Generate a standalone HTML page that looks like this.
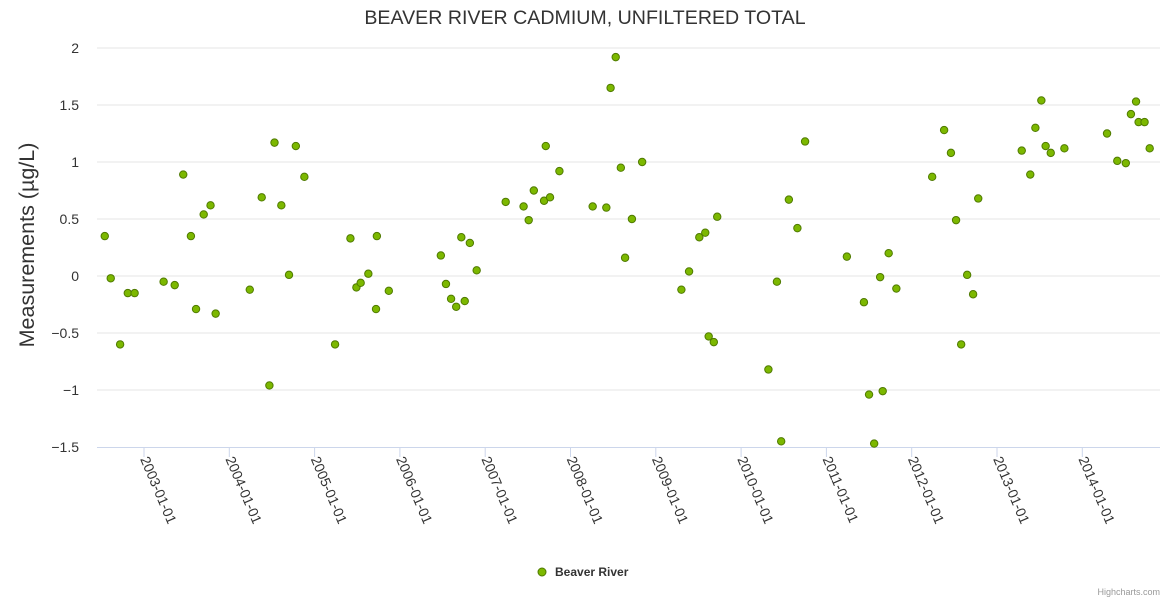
<!DOCTYPE html>
<html><head><meta charset="utf-8"><style>
body{margin:0;background:#fff;font-family:"Liberation Sans",sans-serif}
</style></head><body>
<svg id="c" width="1170" height="600" xmlns="http://www.w3.org/2000/svg">
<text x="585" y="24" text-anchor="middle" font-size="19.6" fill="#333">BEAVER RIVER CADMIUM, UNFILTERED TOTAL</text>
<text transform="translate(34,245) rotate(-90)" text-anchor="middle" font-size="21.5" fill="#333">Measurements (µg/L)</text>
<g id="grid"></g>
<g id="xax"></g>
<g id="pts"></g>
<g>
<circle cx="542" cy="572" r="4" fill="#7cb800" stroke="#4f7a00" stroke-width="1"/>
<text x="555" y="576" font-size="12" font-weight="bold" fill="#333">Beaver River</text>
</g>
<text x="1160" y="595" text-anchor="end" font-size="9" fill="#999">Highcharts.com</text>
</svg>
<script>
const yTicks=[2,1.5,1,0.5,0,-0.5,-1,-1.5];
const yTickLabels=["2","1.5","1","0.5","0","−0.5","−1","−1.5"];
const xTickYears=[2003,2004,2005,2006,2007,2008,2009,2010,2011,2012,2013,2014];
const dates=[2002.54,2002.61,2002.72,2002.81,2002.89,2003.23,2003.36,2003.46,2003.55,2003.61,2003.70,2003.78,2003.84,2004.24,2004.38,2004.47,2004.53,2004.61,2004.70,2004.78,2004.88,2005.24,2005.42,2005.49,2005.54,2005.63,2005.72,2005.73,2005.87,2006.48,2006.54,2006.60,2006.66,2006.72,2006.76,2006.82,2006.90,2007.24,2007.45,2007.51,2007.57,2007.69,2007.71,2007.76,2007.87,2008.26,2008.42,2008.47,2008.53,2008.59,2008.64,2008.72,2008.84,2009.30,2009.39,2009.51,2009.58,2009.62,2009.68,2009.72,2010.32,2010.42,2010.47,2010.56,2010.66,2010.75,2011.24,2011.44,2011.50,2011.56,2011.63,2011.66,2011.73,2011.82,2012.24,2012.38,2012.46,2012.52,2012.58,2012.65,2012.72,2012.78,2013.29,2013.39,2013.45,2013.52,2013.57,2013.63,2013.79,2014.29,2014.41,2014.51,2014.57,2014.63,2014.66,2014.73,2014.79];
const values=[0.35,-0.02,-0.60,-0.15,-0.15,-0.05,-0.08,0.89,0.35,-0.29,0.54,0.62,-0.33,-0.12,0.69,-0.96,1.17,0.62,0.01,1.14,0.87,-0.60,0.33,-0.10,-0.06,0.02,-0.29,0.35,-0.13,0.18,-0.07,-0.20,-0.27,0.34,-0.22,0.29,0.05,0.65,0.61,0.49,0.75,0.66,1.14,0.69,0.92,0.61,0.60,1.65,1.92,0.95,0.16,0.50,1.00,-0.12,0.04,0.34,0.38,-0.53,-0.58,0.52,-0.82,-0.05,-1.45,0.67,0.42,1.18,0.17,-0.23,-1.04,-1.47,-0.01,-1.01,0.20,-0.11,0.87,1.28,1.08,0.49,-0.60,0.01,-0.16,0.68,1.10,0.89,1.30,1.54,1.14,1.08,1.12,1.25,1.01,0.99,1.42,1.53,1.35,1.35,1.12];
const NS="http://www.w3.org/2000/svg";
const L=97,R=1160;
const X=t=>144+(t-2003)*85.3;
const Y=v=>276-v*114;
function mk(tag,at,parent){const e=document.createElementNS(NS,tag);for(const k in at)e.setAttribute(k,at[k]);parent.appendChild(e);return e;}
const grid=document.getElementById('grid');
yTicks.forEach((v,i)=>{
  if(v!==-1.5){const l=mk('line',{x1:L,x2:R,y1:Y(v),y2:Y(v),stroke:'#e6e6e6','stroke-width':1},grid);
  
  }
  const t=mk('text',{x:79,y:Y(v)+5,'text-anchor':'end','font-size':14,fill:'#333'},grid);
  t.textContent=yTickLabels[i];
  
  
});
const xax=document.getElementById('xax');
mk('line',{x1:L,x2:R,y1:Y(-1.5)+0.5,y2:Y(-1.5)+0.5,stroke:'#ccd6eb','stroke-width':1},xax);
xTickYears.forEach(yr=>{
  const x=X(yr);
  const tk=mk('line',{x1:x,x2:x,y1:Y(-1.5),y2:Y(-1.5)+10,stroke:'#ccd6eb','stroke-width':1},xax);
  
  
  const t=mk('text',{transform:`translate(${x-4},${Y(-1.5)+12}) rotate(67)`,'font-size':14,fill:'#333'},xax);
  t.textContent=yr+'-01-01';
  
  
});
const pts=document.getElementById('pts');
dates.forEach((d,i)=>{
  const c=mk('circle',{cx:X(d),cy:Y(values[i]),r:3.7,fill:'#7cb800',stroke:'#4f7a00','stroke-width':1},pts);
  
  
});
</script>
</body></html>
